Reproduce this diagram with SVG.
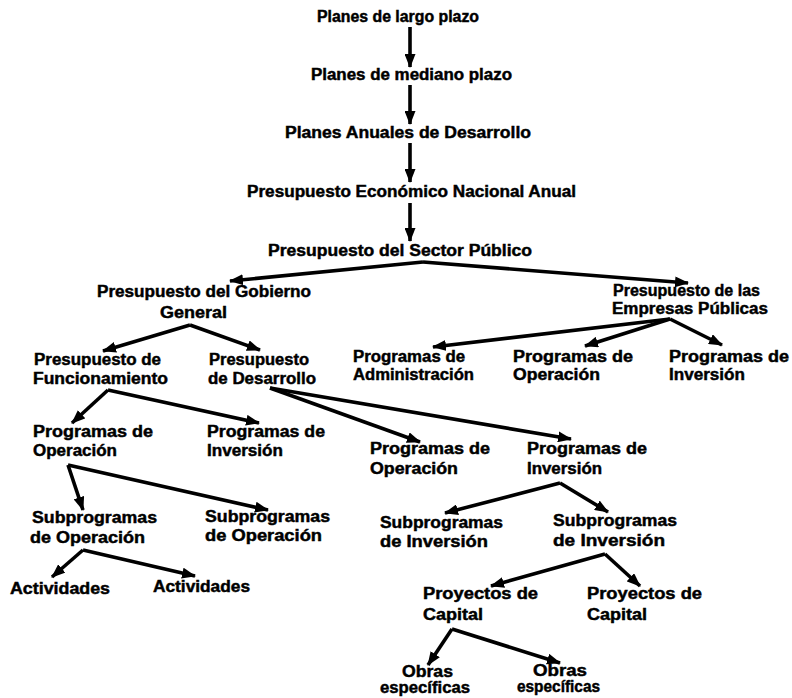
<svg xmlns="http://www.w3.org/2000/svg" width="792" height="698" viewBox="0 0 792 698">
<style>
.t{font-family:"Liberation Sans",Arial,sans-serif;font-weight:bold;font-size:16px;fill:#000;stroke:#000;stroke-width:0.45}
.c line{stroke:#000;stroke-width:3.6;marker-end:url(#ah)}
</style>
<defs>
<marker id="ah" markerWidth="14" markerHeight="11" refX="13" refY="5.5" orient="auto" markerUnits="userSpaceOnUse"><path d="M0,0 L14,5.5 L0,11 z" fill="#000"/></marker>
</defs>
<rect width="792" height="698" fill="#fff"/>
<g id="n-largo"><text class="t" x="317" y="22" textLength="162" lengthAdjust="spacingAndGlyphs">Planes de largo plazo</text></g>
<g id="n-mediano"><text class="t" x="311" y="80" textLength="201" lengthAdjust="spacingAndGlyphs">Planes de mediano plazo</text></g>
<g id="n-anuales"><text class="t" x="285" y="138" textLength="246" lengthAdjust="spacingAndGlyphs">Planes Anuales de Desarrollo</text></g>
<g id="n-economico"><text class="t" x="247" y="197" textLength="329" lengthAdjust="spacingAndGlyphs">Presupuesto Económico Nacional Anual</text></g>
<g id="n-sector"><text class="t" x="268" y="256" textLength="264" lengthAdjust="spacingAndGlyphs">Presupuesto del Sector Público</text></g>
<g id="n-gobierno"><text class="t" x="97" y="297" textLength="214" lengthAdjust="spacingAndGlyphs">Presupuesto del Gobierno</text><text class="t" x="160" y="318" textLength="67" lengthAdjust="spacingAndGlyphs">General</text></g>
<g id="n-empresas"><text class="t" x="613" y="296" textLength="147" lengthAdjust="spacingAndGlyphs">Presupuesto de las</text><text class="t" x="612" y="314" textLength="156" lengthAdjust="spacingAndGlyphs">Empresas Públicas</text></g>
<g id="n-admin"><text class="t" x="353" y="362" textLength="112" lengthAdjust="spacingAndGlyphs">Programas de</text><text class="t" x="353" y="380" textLength="121" lengthAdjust="spacingAndGlyphs">Administración</text></g>
<g id="n-ep-operacion"><text class="t" x="513" y="362" textLength="120" lengthAdjust="spacingAndGlyphs">Programas de</text><text class="t" x="513" y="380" textLength="87" lengthAdjust="spacingAndGlyphs">Operación</text></g>
<g id="n-ep-inversion"><text class="t" x="669" y="362" textLength="120" lengthAdjust="spacingAndGlyphs">Programas de</text><text class="t" x="669" y="380" textLength="76" lengthAdjust="spacingAndGlyphs">Inversión</text></g>
<g id="n-funcionamiento"><text class="t" x="34" y="365" textLength="127" lengthAdjust="spacingAndGlyphs">Presupuesto de</text><text class="t" x="33" y="384" textLength="135" lengthAdjust="spacingAndGlyphs">Funcionamiento</text></g>
<g id="n-desarrollo"><text class="t" x="209" y="365" textLength="100" lengthAdjust="spacingAndGlyphs">Presupuesto</text><text class="t" x="208" y="384" textLength="108" lengthAdjust="spacingAndGlyphs">de Desarrollo</text></g>
<g id="n-f-operacion"><text class="t" x="33" y="437" textLength="120" lengthAdjust="spacingAndGlyphs">Programas de</text><text class="t" x="33" y="456" textLength="84" lengthAdjust="spacingAndGlyphs">Operación</text></g>
<g id="n-f-inversion"><text class="t" x="207" y="437" textLength="118" lengthAdjust="spacingAndGlyphs">Programas de</text><text class="t" x="207" y="456" textLength="76" lengthAdjust="spacingAndGlyphs">Inversión</text></g>
<g id="n-d-operacion"><text class="t" x="370" y="454" textLength="120" lengthAdjust="spacingAndGlyphs">Programas de</text><text class="t" x="370" y="474" textLength="88" lengthAdjust="spacingAndGlyphs">Operación</text></g>
<g id="n-d-inversion"><text class="t" x="527" y="454" textLength="120" lengthAdjust="spacingAndGlyphs">Programas de</text><text class="t" x="527" y="474" textLength="75" lengthAdjust="spacingAndGlyphs">Inversión</text></g>
<g id="n-subop1"><text class="t" x="32" y="523" textLength="125" lengthAdjust="spacingAndGlyphs">Subprogramas</text><text class="t" x="30" y="543" textLength="115" lengthAdjust="spacingAndGlyphs">de Operación</text></g>
<g id="n-subop2"><text class="t" x="205" y="522" textLength="125" lengthAdjust="spacingAndGlyphs">Subprogramas</text><text class="t" x="205" y="541" textLength="117" lengthAdjust="spacingAndGlyphs">de Operación</text></g>
<g id="n-act1"><text class="t" x="10" y="594" textLength="100" lengthAdjust="spacingAndGlyphs">Actividades</text></g>
<g id="n-act2"><text class="t" x="153" y="592" textLength="97" lengthAdjust="spacingAndGlyphs">Actividades</text></g>
<g id="n-subinv1"><text class="t" x="380" y="528" textLength="123" lengthAdjust="spacingAndGlyphs">Subprogramas</text><text class="t" x="380" y="547" textLength="108" lengthAdjust="spacingAndGlyphs">de Inversión</text></g>
<g id="n-subinv2"><text class="t" x="553" y="526" textLength="124" lengthAdjust="spacingAndGlyphs">Subprogramas</text><text class="t" x="553" y="546" textLength="112" lengthAdjust="spacingAndGlyphs">de Inversión</text></g>
<g id="n-proy1"><text class="t" x="423" y="599" textLength="115" lengthAdjust="spacingAndGlyphs">Proyectos de</text><text class="t" x="423" y="620" textLength="60" lengthAdjust="spacingAndGlyphs">Capital</text></g>
<g id="n-proy2"><text class="t" x="587" y="599" textLength="115" lengthAdjust="spacingAndGlyphs">Proyectos de</text><text class="t" x="587" y="620" textLength="60" lengthAdjust="spacingAndGlyphs">Capital</text></g>
<g id="n-obras1"><text class="t" x="402" y="677" textLength="51" lengthAdjust="spacingAndGlyphs">Obras</text><text class="t" x="380" y="693" textLength="90" lengthAdjust="spacingAndGlyphs">específicas</text></g>
<g id="n-obras2"><text class="t" x="533" y="676" textLength="54" lengthAdjust="spacingAndGlyphs">Obras</text><text class="t" x="517" y="692" textLength="83" lengthAdjust="spacingAndGlyphs">específicas</text></g>
<g id="connectors" class="c">
<line x1="410" y1="27" x2="410" y2="67"/>
<line x1="410" y1="85" x2="410" y2="124"/>
<line x1="410" y1="143" x2="410" y2="182"/>
<line x1="410" y1="203" x2="410" y2="241"/>
<line x1="423" y1="262" x2="230" y2="281"/>
<line x1="423" y1="262" x2="688" y2="283"/>
<line x1="190" y1="325" x2="103" y2="351"/>
<line x1="190" y1="325" x2="260" y2="350"/>
<line x1="670" y1="319" x2="433" y2="347"/>
<line x1="670" y1="319" x2="585" y2="346"/>
<line x1="670" y1="319" x2="722" y2="345"/>
<line x1="108" y1="390" x2="72" y2="423"/>
<line x1="108" y1="390" x2="259" y2="423"/>
<line x1="270" y1="388" x2="420" y2="442"/>
<line x1="270" y1="388" x2="571" y2="439"/>
<line x1="68" y1="465" x2="83" y2="510"/>
<line x1="68" y1="465" x2="268" y2="510"/>
<line x1="83" y1="550" x2="52" y2="577"/>
<line x1="83" y1="550" x2="195" y2="576"/>
<line x1="560" y1="483" x2="445" y2="513"/>
<line x1="560" y1="483" x2="608" y2="512"/>
<line x1="605" y1="554" x2="491" y2="586"/>
<line x1="605" y1="554" x2="640" y2="586"/>
<line x1="452" y1="629" x2="428" y2="665"/>
<line x1="452" y1="629" x2="560" y2="663"/>
</g>
</svg>
